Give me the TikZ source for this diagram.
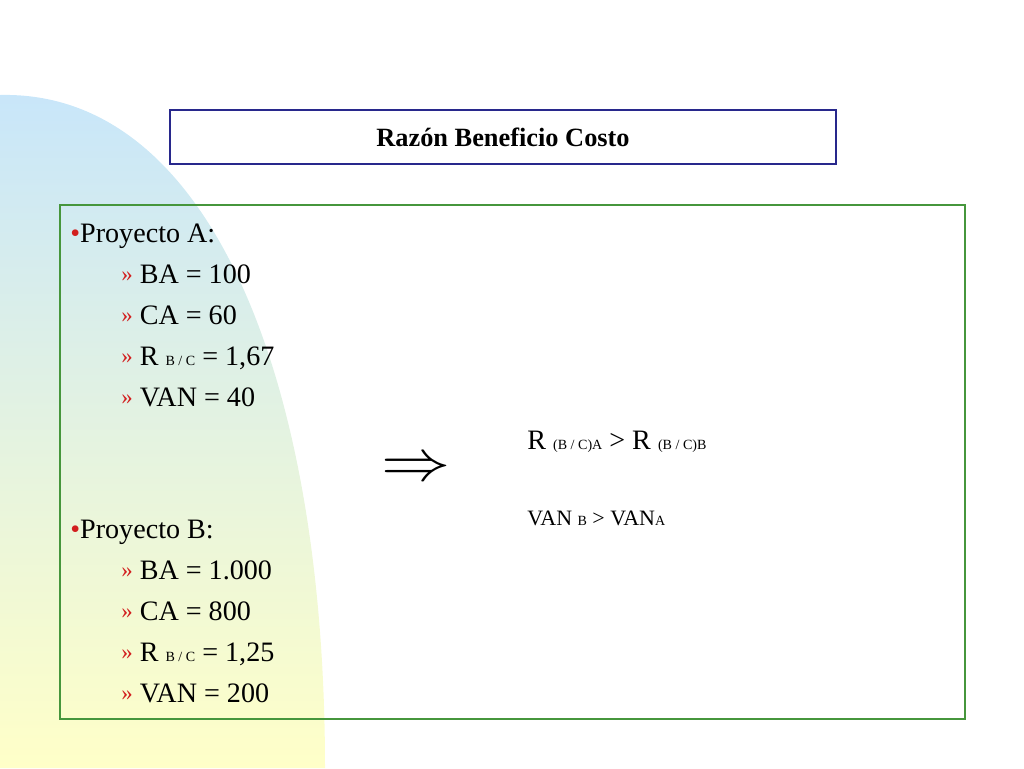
\documentclass[tikz,border=0pt]{standalone}
\usepackage{fontspec}
\setmainfont{Liberation Serif}
\usepackage{amsmath, amssymb}
\definecolor{titleblue}{RGB}{40,40,140}
\definecolor{boxgreen}{RGB}{70,150,60}
\definecolor{bulletred}{RGB}{210,30,30}
\tikzset{
  line/.style={anchor=base west, inner sep=0pt, font=\fontsize{16}{18}\selectfont},
  rel/.style={anchor=base west, inner sep=0pt, font=\fontsize{12.5}{14}\selectfont},
}
\newcommand{\bul}{\textcolor{bulletred}{\textbullet}}
\newcommand{\subbul}{\textcolor{bulletred}{\raisebox{0.1ex}{\fontsize{13}{14}\selectfont »}}}
\newcommand{\sm}[1]{{\fontsize{8}{9}\selectfont #1}}
\begin{document}
\begin{tikzpicture}[x=0.02cm,y=-0.02cm]
  \useasboundingbox (0,0) rectangle (1024,768);
  \shade[top color={rgb,255:red,200;green,230;blue,250}, bottom color={rgb,255:red,255;green,255;blue,200}]
    (0,95) .. controls (210,90) and (325,380) .. (325,768) -- (0,768) -- cycle;
  % title
  \node[draw=titleblue, line width=1.5pt, fill=white, minimum width=666*0.02cm, minimum height=54*0.02cm,
    font=\fontsize{15}{17}\selectfont\bfseries] (title) at (503,137) {Razón Beneficio Costo};
  % main box
  \draw[boxgreen, line width=1.5pt] (60,205) rectangle (965,719);
  % project A
  \node[line] (pa) at (70,242) {\bul Proyecto A:};
  \node[line] (pa1) at (121,283) {\subbul\ BA = 100};
  \node[line] (pa2) at (121,324) {\subbul\ CA = 60};
  \node[line] (pa3) at (121,365) {\subbul\ R \sm{B / C} = 1,67};
  \node[line] (pa4) at (121,406) {\subbul\ VAN = 40};
  % project B
  \node[line] (pb) at (70,538) {\bul Proyecto B:};
  \node[line] (pb1) at (121,579) {\subbul\ BA = 1.000};
  \node[line] (pb2) at (121,620) {\subbul\ CA = 800};
  \node[line] (pb3) at (121,661) {\subbul\ R \sm{B / C} = 1,25};
  \node[line] (pb4) at (121,702) {\subbul\ VAN = 200};
  % conclusion
  \node[inner sep=0pt] (impl) at (416,470) {\scalebox{1.9}[1.6]{\fontsize{20}{22}\selectfont$\Rightarrow$}};
  \node[rel, font=\fontsize{16}{18}\selectfont] (r1) at (527,449) {R \sm{(B / C)A} > R \sm{(B / C)B}};
  \node[rel] (r2) at (527,525) {VAN \sm{B} > VAN\sm{A}};
\end{tikzpicture}
\end{document}
